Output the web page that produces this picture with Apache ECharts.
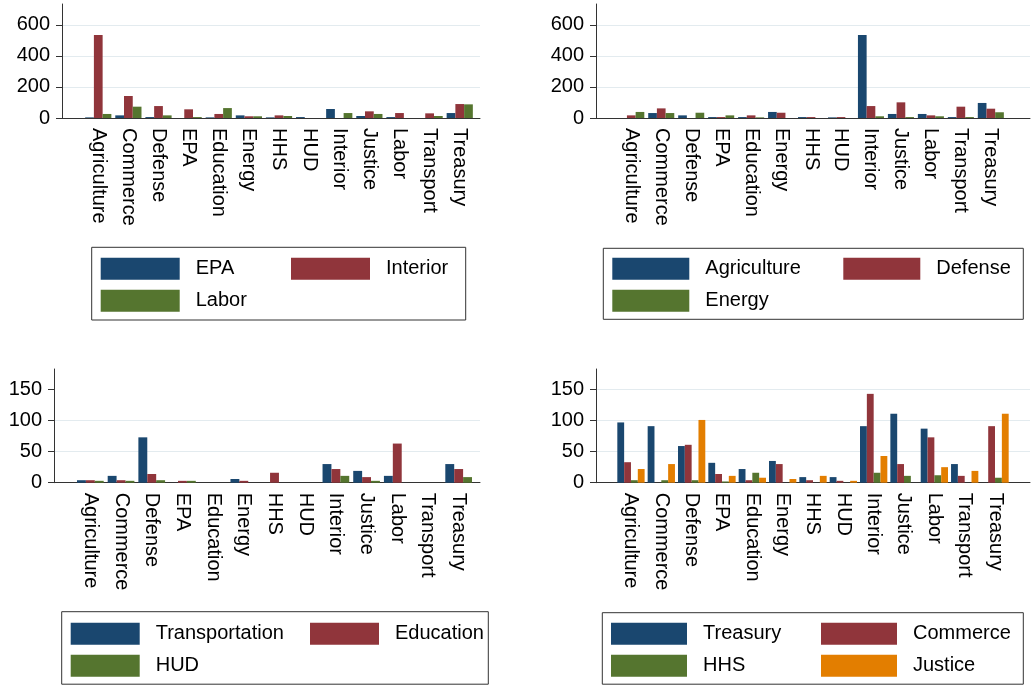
<!DOCTYPE html>
<html>
<head>
<meta charset="utf-8">
<script src="https://cdn.jsdelivr.net/npm/echarts@6/dist/echarts.min.js"></script>
<style>
  html, body { margin: 0; padding: 0; background: #fff; }
  #chart { width: 1032px; height: 685px; }
</style>
</head>
<body>
<div id="chart"></div>
<script>
// categories on every x axis
const categories = ["Agriculture", "Commerce", "Defense", "EPA", "Education", "Energy",
  "HHS", "HUD", "Interior", "Justice", "Labor", "Transport", "Treasury"];

// top left panel
const epa = [4, 17, 6, 0, 4, 17, 4, 6, 58, 13, 6, 0, 32];
const interior = [535, 142, 77, 56, 26, 11, 17, 0, 0, 43, 32, 30, 90];
const labor = [26, 73, 17, 6, 64, 11, 13, 0, 32, 26, 0, 13, 88];

// top right panel
const agriculture = [0, 32, 17, 6, 6, 39, 6, 4, 535, 26, 26, 6, 97];
const defense = [17, 62, 0, 6, 17, 34, 6, 6, 77, 101, 17, 73, 60];
const energy = [39, 32, 34, 17, 4, 0, 0, 0, 11, 6, 11, 6, 37];

// bottom left panel
const transportation = [4, 11, 73, 0, 0, 6, 0, 0, 30, 19, 11, 0, 30];
const education = [4, 4, 14, 3, 0, 3, 16, 0, 22, 9, 63, 0, 22];
const hud = [3, 3, 4, 3, 0, 0, 0, 0, 11, 3, 0, 0, 9];

// bottom right panel
const treasury = [97, 91, 59, 32, 22, 35, 9, 9, 91, 111, 87, 30, 0];
const commerce = [33, 0, 61, 14, 4, 30, 4, 3, 143, 30, 73, 11, 91];
const hhs = [4, 4, 4, 2, 16, 0, 0, 0, 16, 11, 12, 0, 8];
const justice = [22, 30, 101, 11, 8, 6, 11, 3, 43, 0, 25, 19, 111];

// tick labels
const ticksTop = [0, 200, 400, 600];
const ticksBottom = [0, 50, 100, 150];

const navy = "#1a476f";
const maroon = "#90353b";
const green = "#55752f";
const orange = "#e37e00";
const gridColor = "#e3ebef";
const font = "Liberation Sans";

const panels = [
  {
    names: ["EPA", "Interior", "Labor"], values: [epa, interior, labor],
    colors: [navy, maroon, green], max: 735, interval: 200, ticks: ticksTop,
    split: [gridColor, gridColor, gridColor, gridColor, "rgba(0,0,0,0)"],
    axisLeft: 62, axisRight: 480, barLeft: 83.2, barRight: 474.8, top: 4, bottom: 118,
    gap: "13%",
    box: [91.7, 247.3, 374, 72.7], col1: [100.7, 256.7], col2: [291, 256.7], sw: 79
  },
  {
    names: ["Agriculture", "Defense", "Energy"], values: [agriculture, defense, energy],
    colors: [navy, maroon, green], max: 735, interval: 200, ticks: ticksTop,
    split: [gridColor, gridColor, gridColor, gridColor, "rgba(0,0,0,0)"],
    axisLeft: 596, axisRight: 1030, barLeft: 616.3, barRight: 1005.8, top: 4, bottom: 118,
    gap: "13%",
    box: [603.3, 248.3, 420, 71], col1: [612.3, 256.7], col2: [843.3, 256.7], sw: 77
  },
  {
    names: ["Transportation", "Education", "HUD"], values: [transportation, education, hud],
    colors: [navy, maroon, green], max: 183, interval: 50, ticks: ticksBottom,
    split: [gridColor, gridColor, gridColor, "rgba(0,0,0,0)", "rgba(0,0,0,0)"],
    axisLeft: 54, axisRight: 480, barLeft: 75, barRight: 474, top: 369, bottom: 482.7,
    gap: "13%",
    box: [61.7, 611.7, 426.6, 72.5], col1: [70.7, 621.7], col2: [310, 621.7], sw: 69
  },
  {
    names: ["Treasury", "Commerce", "HHS", "Justice"], values: [treasury, commerce, hhs, justice],
    colors: [navy, maroon, green, orange], max: 183, interval: 50, ticks: ticksBottom,
    split: [gridColor, gridColor, gridColor, gridColor, "rgba(0,0,0,0)"],
    axisLeft: 596, axisRight: 1030, barLeft: 615.8, barRight: 1010.2, top: 369, bottom: 482.7,
    gap: "10%",
    box: [602.3, 612.7, 421, 71.5], col1: [611, 621.7], col2: [821, 621.7], sw: 76
  }
];

const grid = [];
const xAxis = [];
const yAxis = [];
const series = [];
const legend = [];
const graphic = [];

panels.forEach(function(p) {
  const axisIdx = grid.length;
  const barIdx = axisIdx + 1;
  const h = p.bottom - p.top;

  // grid that carries the visible y axis and baseline
  grid.push({ left: p.axisLeft, top: p.top, width: p.axisRight - p.axisLeft, height: h });
  // grid that carries the bars and category labels
  grid.push({ left: p.barLeft, top: p.top, width: p.barRight - p.barLeft, height: h });

  xAxis.push({
    type: "category", gridIndex: axisIdx, data: categories,
    axisLine: { show: true, lineStyle: { color: "#333", width: 1 } },
    axisTick: { show: false }, axisLabel: { show: false }, splitLine: { show: false }
  });
  xAxis.push({
    type: "category", gridIndex: barIdx, data: categories,
    axisLine: { show: false }, axisTick: { show: false },
    axisLabel: {
      interval: 0, rotate: -90, margin: 10,
      fontSize: 20, fontFamily: font, color: "#000"
    }
  });

  yAxis.push({
    type: "value", gridIndex: axisIdx, min: 0, max: p.max, interval: p.interval,
    axisLine: { show: true, lineStyle: { color: "#333", width: 1 } },
    axisTick: { show: true, length: 6, customValues: p.ticks, lineStyle: { color: "#333" } },
    axisLabel: {
      customValues: p.ticks, margin: 12,
      fontSize: 20, fontFamily: font, color: "#000"
    },
    splitLine: { show: true, lineStyle: { color: p.split, width: 1 } }
  });
  yAxis.push({
    type: "value", gridIndex: barIdx, min: 0, max: p.max, interval: p.interval,
    show: false, splitLine: { show: false }
  });

  p.names.forEach(function(name, i) {
    series.push({
      type: "bar", name: name, data: p.values[i],
      xAxisIndex: barIdx, yAxisIndex: barIdx,
      barGap: "0%", barCategoryGap: p.gap,
      itemStyle: { color: p.colors[i] },
      emphasis: { disabled: true }
    });
  });

  // legend, two columns like the original
  const col1 = p.names.filter(function(n, i) { return i % 2 === 0; });
  const col2 = p.names.filter(function(n, i) { return i % 2 === 1; });
  [[col1, p.col1], [col2, p.col2]].forEach(function(c) {
    legend.push({
      data: c[0], orient: "vertical", left: c[1][0], top: c[1][1],
      padding: 0, itemGap: 8, itemWidth: p.sw, itemHeight: 22,
      icon: "rect", selectedMode: false,
      itemStyle: { borderWidth: 0 },
      textStyle: {
        fontSize: 20, fontFamily: font, color: "#000",
        lineHeight: 22, padding: [2, 0, 0, 11]
      }
    });
  });

  graphic.push({
    type: "rect", silent: true,
    shape: { x: p.box[0], y: p.box[1], width: p.box[2], height: p.box[3] },
    style: { fill: "none", stroke: "#333", lineWidth: 1 }
  });
});

const chart = echarts.init(document.getElementById("chart"), null, { renderer: "canvas" });
chart.setOption({
  animation: false,
  backgroundColor: "#fff",
  grid: grid,
  xAxis: xAxis,
  yAxis: yAxis,
  legend: legend,
  graphic: graphic,
  series: series
});
</script>
</body>
</html>
